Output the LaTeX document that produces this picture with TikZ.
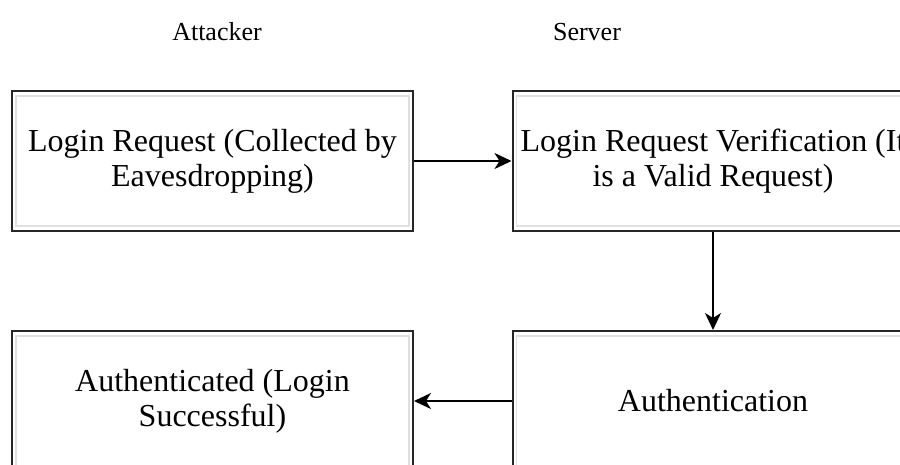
\documentclass[tikz,border=0pt]{standalone}
\usepackage{fontspec}
\setmainfont{Liberation Serif}
\usetikzlibrary{arrows.meta}
\begin{document}
\begin{tikzpicture}[x=1pt,y=-1pt,
  stage/.style={draw=black!85, line width=2pt, fill=white,
    minimum width=401pt, minimum height=140pt, inner sep=0pt,
    align=center, font=\fontsize{32}{35}\selectfont},
  rim/.style={draw=black!12, line width=1.2pt},
  header/.style={font=\fontsize{26}{30}\selectfont, anchor=base},
  flow/.style={draw=black, line width=1.8pt,
    -{Stealth[length=17pt,width=16pt,inset=5pt]}}]
\useasboundingbox[fill=white] (0,0) rectangle (900,464);

% column headers
\node[header] (hAtt) at (217,40) {Attacker};
\node[header] (hSrv) at (587,40) {Server};

% process steps
\node[stage] (login)  at (212.5,161) {Login Request (Collected by\\Eavesdropping)};
\node[stage] (verify) at (713,161)   {Login Request Verification (It\\is a Valid Request)};
\node[stage] (auth)   at (713,401)   {Authentication};
\node[stage] (done)   at (212.5,401) {Authenticated (Login\\Successful)};

% faint inner frames
\foreach \b in {login,verify,auth,done}
  \draw[rim] ([shift={(5,6)}]\b.north west) rectangle ([shift={(-5,-6)}]\b.south east);

% connectors
\draw[flow] (login.east) -- (verify.west);
\draw[flow] (verify.south) -- (auth.north);
\draw[flow] (auth.west) -- (done.east);
\end{tikzpicture}
\end{document}
